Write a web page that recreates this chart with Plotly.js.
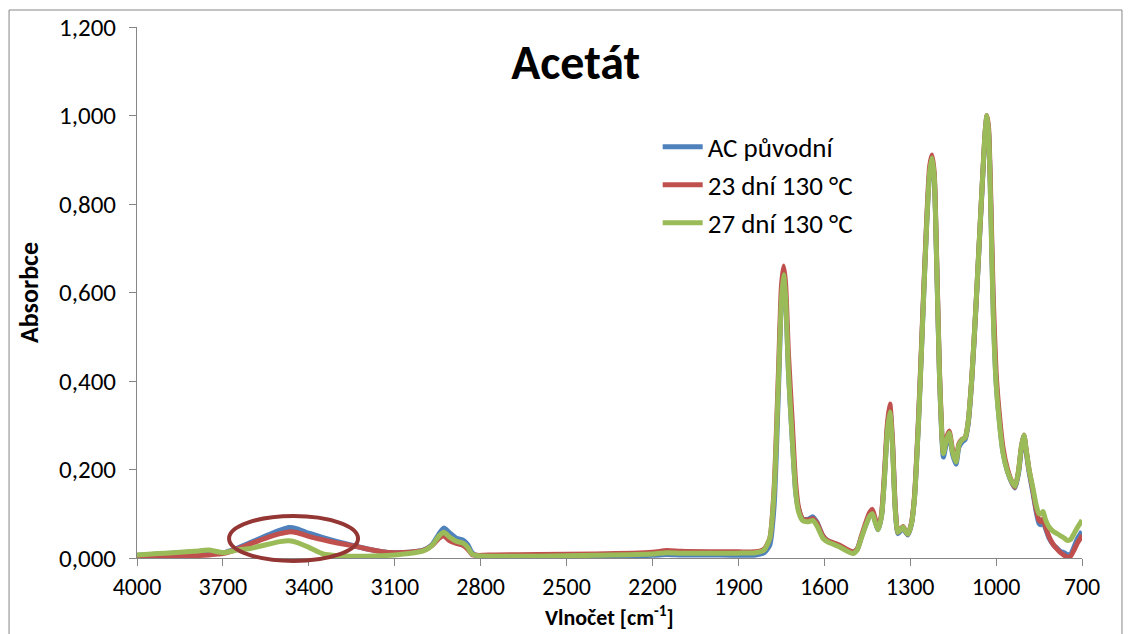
<!DOCTYPE html>
<html>
<head>
<meta charset="utf-8">
<script src="https://cdn.plot.ly/plotly-3.0.1.min.js"></script>
<style>
  html, body { margin: 0; padding: 0; background: #ffffff; }
  #chart { width: 1131px; height: 634px; }
</style>
</head>
<body>
<div id="chart"></div>
<script>
// Wavenumbers [cm^-1]
const wavenumber = [4000, 3950, 3900, 3850, 3800, 3750, 3700, 3650, 3600, 3550, 3500, 3470, 3440, 3400, 3350, 3300, 3250, 3200, 3150, 3100, 3050, 3000, 2970, 2945, 2928, 2910, 2885, 2860, 2845, 2830, 2810, 2750, 2600, 2400, 2200, 2150, 2100, 2000, 1900, 1840, 1810, 1790, 1775, 1760, 1750, 1742, 1735, 1725, 1712, 1700, 1690, 1675, 1655, 1640, 1625, 1605, 1590, 1550, 1500, 1485, 1470, 1455, 1442, 1432, 1422, 1412, 1400, 1390, 1380, 1371, 1362, 1352, 1343, 1333, 1325, 1316, 1308, 1296, 1285, 1270, 1255, 1242, 1232, 1224, 1216, 1208, 1198, 1190, 1184, 1175, 1164, 1152, 1140, 1130, 1119, 1108, 1098, 1085, 1070, 1058, 1046, 1038, 1032, 1026, 1018, 1010, 1000, 990, 976, 960, 945, 934, 922, 912, 903, 895, 885, 872, 860, 850, 843, 836, 828, 815, 800, 787, 775, 762, 752, 740, 728, 715, 705, 700];

// AC původní
const acOriginal = [0.006, 0.008, 0.010, 0.012, 0.014, 0.016, 0.012, 0.022, 0.036, 0.050, 0.063, 0.069, 0.066, 0.056, 0.046, 0.037, 0.029, 0.021, 0.015, 0.012, 0.013, 0.018, 0.030, 0.055, 0.068, 0.058, 0.045, 0.040, 0.030, 0.012, 0.005, 0.003, 0.003, 0.004, 0.006, 0.008, 0.007, 0.007, 0.006, 0.007, 0.012, 0.030, 0.120, 0.380, 0.580, 0.645, 0.590, 0.420, 0.270, 0.150, 0.110, 0.088, 0.088, 0.093, 0.080, 0.050, 0.040, 0.028, 0.012, 0.020, 0.048, 0.075, 0.095, 0.104, 0.082, 0.064, 0.095, 0.180, 0.290, 0.338, 0.260, 0.110, 0.055, 0.062, 0.068, 0.058, 0.052, 0.075, 0.135, 0.320, 0.560, 0.760, 0.870, 0.900, 0.860, 0.680, 0.420, 0.280, 0.228, 0.255, 0.278, 0.235, 0.212, 0.250, 0.262, 0.268, 0.300, 0.400, 0.570, 0.720, 0.870, 0.960, 0.998, 0.960, 0.780, 0.560, 0.400, 0.320, 0.240, 0.195, 0.170, 0.158, 0.190, 0.245, 0.275, 0.240, 0.195, 0.150, 0.105, 0.078, 0.075, 0.082, 0.068, 0.045, 0.030, 0.022, 0.015, 0.012, 0.008, 0.008, 0.025, 0.045, 0.055, 0.060];

// 23 dní 130 °C
const days23 = [0.001, 0.002, 0.003, 0.004, 0.005, 0.007, 0.010, 0.020, 0.033, 0.045, 0.055, 0.059, 0.057, 0.049, 0.041, 0.034, 0.028, 0.021, 0.015, 0.012, 0.013, 0.017, 0.028, 0.045, 0.050, 0.040, 0.033, 0.028, 0.020, 0.008, 0.006, 0.007, 0.008, 0.009, 0.013, 0.017, 0.015, 0.014, 0.014, 0.014, 0.020, 0.045, 0.160, 0.420, 0.610, 0.660, 0.620, 0.460, 0.310, 0.170, 0.115, 0.088, 0.086, 0.089, 0.078, 0.050, 0.040, 0.030, 0.014, 0.020, 0.050, 0.080, 0.102, 0.110, 0.088, 0.066, 0.100, 0.190, 0.300, 0.348, 0.270, 0.115, 0.058, 0.066, 0.071, 0.061, 0.054, 0.078, 0.140, 0.330, 0.570, 0.770, 0.885, 0.911, 0.870, 0.690, 0.430, 0.290, 0.240, 0.268, 0.287, 0.245, 0.220, 0.258, 0.268, 0.272, 0.305, 0.405, 0.575, 0.725, 0.875, 0.965, 1.000, 0.970, 0.800, 0.590, 0.420, 0.335, 0.250, 0.200, 0.172, 0.160, 0.195, 0.250, 0.278, 0.245, 0.200, 0.155, 0.110, 0.085, 0.082, 0.088, 0.072, 0.048, 0.030, 0.020, 0.012, 0.006, 0.002, 0.004, 0.018, 0.035, 0.045, 0.052];

// 27 dní 130 °C
const days27 = [0.007, 0.009, 0.011, 0.013, 0.015, 0.018, 0.012, 0.018, 0.022, 0.030, 0.037, 0.039, 0.035, 0.024, 0.009, 0.005, 0.004, 0.004, 0.005, 0.007, 0.010, 0.016, 0.028, 0.050, 0.058, 0.048, 0.038, 0.033, 0.024, 0.009, 0.005, 0.004, 0.004, 0.006, 0.009, 0.012, 0.011, 0.011, 0.011, 0.012, 0.018, 0.045, 0.150, 0.400, 0.580, 0.640, 0.590, 0.420, 0.270, 0.150, 0.105, 0.084, 0.082, 0.085, 0.072, 0.045, 0.037, 0.026, 0.010, 0.018, 0.046, 0.074, 0.094, 0.100, 0.080, 0.064, 0.095, 0.178, 0.285, 0.330, 0.255, 0.108, 0.058, 0.064, 0.070, 0.060, 0.054, 0.076, 0.135, 0.320, 0.560, 0.760, 0.872, 0.904, 0.862, 0.680, 0.420, 0.285, 0.236, 0.262, 0.283, 0.240, 0.217, 0.255, 0.267, 0.272, 0.305, 0.405, 0.575, 0.725, 0.875, 0.965, 1.000, 0.960, 0.770, 0.550, 0.395, 0.315, 0.238, 0.195, 0.172, 0.162, 0.195, 0.250, 0.278, 0.245, 0.200, 0.160, 0.120, 0.100, 0.100, 0.105, 0.088, 0.070, 0.060, 0.055, 0.050, 0.045, 0.040, 0.042, 0.055, 0.070, 0.080, 0.086];

const seriesNames = ['AC původní', '23 dní 130 °C', '27 dní 130 °C'];
const seriesColors = ['#4F81BD', '#C0504D', '#9BBB59'];
const xTickVals = [4000, 3700, 3400, 3100, 2800, 2500, 2200, 1900, 1600, 1300, 1000, 700];
const yTickVals = [0, 0.2, 0.4, 0.6, 0.8, 1.0, 1.2];

const FONT = 'Carlito, Calibri, Lato, "Open Sans", sans-serif';
const ys = [acOriginal, days23, days27];

const traces = ys.map((y, i) => ({
  type: 'scatter',
  mode: 'lines',
  x: wavenumber,
  y: y,
  name: seriesNames[i],
  line: { color: seriesColors[i], width: 5, shape: 'spline', smoothing: 0.6 },
  hoverinfo: 'x+y+name'
}));

const layout = {
  width: 1131,
  height: 634,
  margin: { l: 137, r: 49, t: 27, b: 76 },
  paper_bgcolor: '#ffffff',
  plot_bgcolor: '#ffffff',
  separators: ',.',
  font: { family: FONT, size: 25, color: '#000000' },
  title: {
    text: '<b>Acetát</b>',
    font: { family: FONT, size: 48, color: '#000000' },
    x: 0.509, xanchor: 'center',
    y: 0.902, yanchor: 'middle'
  },
  showlegend: true,
  legend: {
    x: 0.551, y: 0.82, xanchor: 'left', yanchor: 'top',
    bgcolor: 'rgba(0,0,0,0)',
    font: { family: FONT, size: 27, color: '#000000' },
    tracegroupgap: 0,
    itemwidth: 40
  },
  xaxis: {
    range: [4000, 700],
    tickmode: 'array',
    tickvals: xTickVals,
    tickformat: 'd',
    ticks: 'outside',
    ticklen: 7,
    tickcolor: '#868686',
    showline: true,
    linecolor: '#868686',
    linewidth: 1,
    showgrid: false,
    zeroline: false,
    tickfont: { family: FONT, size: 24, color: '#000000' }
  },
  yaxis: {
    range: [0, 1.2],
    tickmode: 'array',
    tickvals: yTickVals,
    tickformat: '.3f',
    ticks: 'outside',
    ticklen: 7,
    tickcolor: '#868686',
    ticklabelstandoff: 8,
    showline: true,
    linecolor: '#868686',
    linewidth: 1,
    showgrid: false,
    zeroline: false,
    tickfont: { family: FONT, size: 25, color: '#000000' },
    title: {
      text: '<b>Absorbce</b>',
      font: { family: FONT, size: 26, color: '#000000' },
      standoff: 12
    }
  },
  annotations: [
    {
      text: '<b>Vlnočet [cm<sup>-1</sup>]</b>',
      xref: 'paper', yref: 'paper',
      x: 0.5, y: -0.110, xanchor: 'center', yanchor: 'middle',
      showarrow: false,
      font: { family: FONT, size: 22, color: '#000000' }
    }
  ],
  shapes: [
    {
      type: 'rect', xref: 'paper', yref: 'paper',
      x0: -0.1354, x1: 1.0423, y0: -0.16, y1: 1.032,
      line: { color: '#868686', width: 1 },
      fillcolor: 'rgba(0,0,0,0)', layer: 'below'
    },
    {
      type: 'circle', xref: 'paper', yref: 'paper',
      x0: 0.0974, x1: 0.2339, y0: -0.0056, y1: 0.0791,
      line: { color: '#943634', width: 4 },
      fillcolor: 'rgba(0,0,0,0)'
    }
  ]
};

Plotly.newPlot('chart', traces, layout, { displayModeBar: false, staticPlot: true });
</script>
</body>
</html>
